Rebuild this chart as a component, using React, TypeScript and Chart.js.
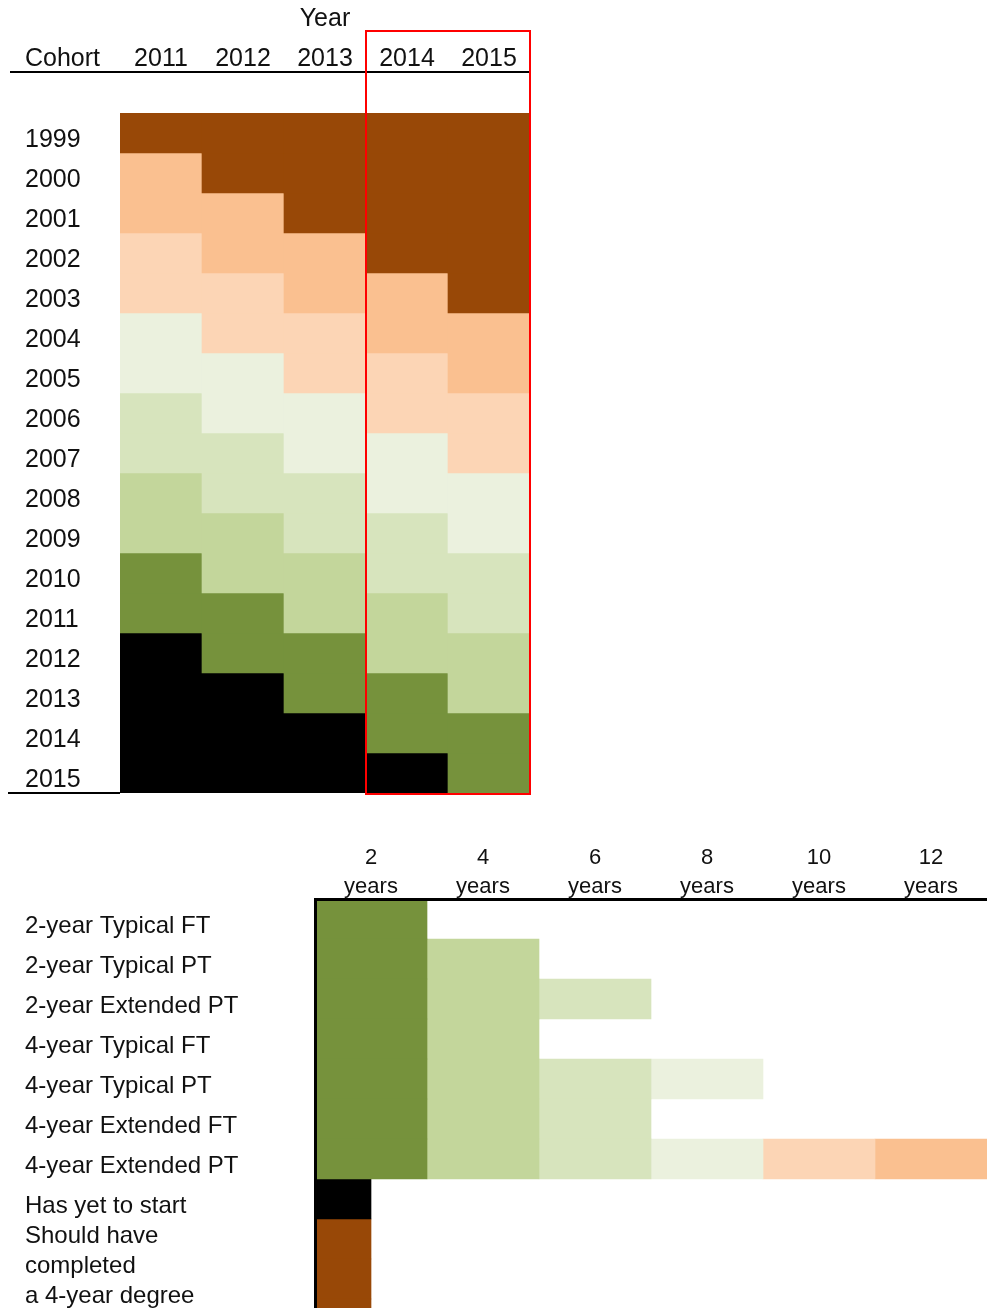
import { useEffect, useRef } from "react";
import { Chart, registerables } from "chart.js";

Chart.register(...registerables);

const FONT = "'Liberation Sans', Arial, sans-serif";
const TEXT = "#111111";

// ---------- top panel data ----------
const years = ["2011", "2012", "2013", "2014", "2015"];
const cohorts = [
  "1999", "2000", "2001", "2002", "2003", "2004", "2005", "2006", "2007",
  "2008", "2009", "2010", "2011", "2012", "2013", "2014", "2015",
];
// status level of each cohort (rows, 1999..2015) in each year column
const status2011 = [7, 6, 6, 5, 5, 4, 4, 3, 3, 2, 2, 1, 1, 0, 0, 0, 0];
const status2012 = [7, 7, 6, 6, 5, 5, 4, 4, 3, 3, 2, 2, 1, 1, 0, 0, 0];
const status2013 = [7, 7, 7, 6, 6, 5, 5, 4, 4, 3, 3, 2, 2, 1, 1, 0, 0];
const status2014 = [7, 7, 7, 7, 6, 6, 5, 5, 4, 4, 3, 3, 2, 2, 1, 1, 0];
const status2015 = [7, 7, 7, 7, 7, 6, 6, 5, 5, 4, 4, 3, 3, 2, 2, 1, 1];
// 0 = has yet to start, 1..6 = 2..12 years in, 7 = should have completed
const statusColors = [
  "#000000", "#76923C", "#C3D69B", "#D7E4BD", "#EBF1DE", "#FCD5B5", "#FAC090", "#984807",
];
const highlightYears = ["2014", "2015"];

// ---------- bottom panel data ----------
const programs = [
  "2-year Typical FT",
  "2-year Typical PT",
  "2-year Extended PT",
  "4-year Typical FT",
  "4-year Typical PT",
  "4-year Extended FT",
  "4-year Extended PT",
];
const programYears = [2, 4, 6, 4, 8, 6, 12];
const durationTicks = [2, 4, 6, 8, 10, 12];
const durationColors = ["#76923C", "#C3D69B", "#D7E4BD", "#EBF1DE", "#FCD5B5", "#FAC090"];
const notStartedLabel = "Has yet to start";
const notStartedSpan = 1;
const overdueLabel = ["Should have", "completed", "a 4-year degree"];
const overdueSpan = 1;

const statusByYear = [status2011, status2012, status2013, status2014, status2015];

const noPad = (s: any) => {
  s.paddingTop = 0;
  s.paddingBottom = 0;
  s.paddingLeft = 0;
  s.paddingRight = 0;
};

function topConfig(): any {
  const datasets = cohorts.map((c, ci) => ({
    label: c,
    data: years.map(() => 1),
    backgroundColor: years.map((_, yi) => statusColors[statusByYear[yi][ci]]),
    borderWidth: 0,
    barPercentage: 1,
    categoryPercentage: 1,
  }));
  const decor = {
    id: "topDecor",
    afterDraw(chart: any) {
      const { ctx, chartArea, scales } = chart;
      const x = scales.x;
      ctx.save();
      ctx.fillStyle = TEXT;
      ctx.font = `25px ${FONT}`;
      ctx.textBaseline = "middle";
      ctx.textAlign = "left";
      ctx.fillText("Cohort", 25, chartArea.top - 39 - 15);
      ctx.strokeStyle = "#000";
      ctx.lineWidth = 2;
      ctx.beginPath();
      ctx.moveTo(10, 72);
      ctx.lineTo(chartArea.right, 72);
      ctx.stroke();
      ctx.beginPath();
      ctx.moveTo(8, chartArea.bottom);
      ctx.lineTo(chartArea.left, chartArea.bottom);
      ctx.stroke();
      const i0 = years.indexOf(highlightYears[0]);
      const i1 = years.indexOf(highlightYears[highlightYears.length - 1]);
      const half = (x.getPixelForValue(1) - x.getPixelForValue(0)) / 2;
      const left = x.getPixelForValue(i0) - half;
      const right = x.getPixelForValue(i1) + half;
      ctx.strokeStyle = "#FF0000";
      ctx.lineWidth = 2;
      ctx.strokeRect(left, 31, right - left, chartArea.bottom + 1 - 31);
      ctx.restore();
    },
  };
  return {
    type: "bar",
    data: { labels: years, datasets },
    plugins: [decor],
    options: {
      animation: false,
      responsive: false,
      maintainAspectRatio: false,
      layout: { padding: { left: 25, right: 987 - 530, top: 0, bottom: 7 } },
      plugins: { legend: { display: false }, tooltip: { enabled: false } },
      scales: {
        x: {
          type: "category",
          position: "top",
          stacked: true,
          offset: true,
          grid: { display: false, drawTicks: false },
          border: { display: false },
          ticks: {
            color: TEXT,
            font: { family: FONT, size: 25 },
            padding: 39,
            maxRotation: 0,
            autoSkip: false,
          },
          title: {
            display: true,
            text: "Year",
            color: TEXT,
            font: { family: FONT, size: 25 },
            padding: { top: 4, bottom: 0 },
          },
          afterFit: (s: any) => {
            s.height = 113;
            noPad(s);
          },
        },
        y: {
          type: "linear",
          min: 0,
          max: cohorts.length,
          reverse: true,
          stacked: true,
          offset: false,
          bounds: "data",
          grid: { display: false, drawTicks: false },
          border: { display: false },
          afterBuildTicks: (s: any) => {
            s.ticks = cohorts.map((_, i) => ({ value: i + 0.5 }));
          },
          ticks: {
            callback: (_v: any, i: number) => cohorts[i],
            crossAlign: "far",
            padding: 0,
            labelOffset: 7,
            autoSkip: false,
            color: TEXT,
            font: { family: FONT, size: 25 },
          },
          afterFit: (s: any) => {
            s.width = 95;
            noPad(s);
          },
        },
      },
    },
  };
}

function bottomConfig(): any {
  const datasets: any[] = durationTicks.map((d, ci) => ({
    label: `${d} years`,
    data: programs
      .map((_, ri) =>
        programYears[ri] >= d
          ? { y: ri + 0.5, x: [ci === 0 ? 0 : durationTicks[ci - 1], d] }
          : null
      )
      .filter((p) => p !== null),
    backgroundColor: durationColors[ci],
    borderWidth: 0,
    grouped: false,
    barPercentage: 1,
    categoryPercentage: 1,
  }));
  const nRows = programs.length;
  datasets.push({
    label: notStartedLabel,
    data: [{ y: nRows + 0.5, x: [0, notStartedSpan] }],
    backgroundColor: statusColors[0],
    borderWidth: 0,
    grouped: false,
    barPercentage: 1,
    categoryPercentage: 1,
  });
  datasets.push({
    label: overdueLabel.join(" "),
    data: [1, 2, 3].map((k) => ({ y: nRows + k + 0.5, x: [0, overdueSpan] })),
    backgroundColor: statusColors[7],
    borderWidth: 0,
    grouped: false,
    barPercentage: 1,
    categoryPercentage: 1,
  });
  const rowLabels: any[] = [...programs, notStartedLabel, overdueLabel];
  const rowPositions = [...programs.map((_, i) => i + 0.5), nRows + 0.5, nRows + 2.0];
  return {
    type: "bar",
    data: { datasets },
    options: {
      indexAxis: "y",
      animation: false,
      responsive: false,
      maintainAspectRatio: false,
      layout: { padding: { left: 25, right: 0, top: 0, bottom: 0 } },
      plugins: { legend: { display: false }, tooltip: { enabled: false } },
      scales: {
        x: {
          type: "linear",
          position: "top",
          min: 0,
          max: durationTicks[durationTicks.length - 1],
          offset: false,
          bounds: "data",
          grid: { display: false, drawTicks: false },
          border: { display: true, color: "#000", width: 3, z: 1 },
          afterBuildTicks: (s: any) => {
            s.ticks = durationTicks.map((d) => ({ value: d - 1 }));
          },
          ticks: {
            callback: (_v: any, i: number) => [String(durationTicks[i]), "years"],
            color: TEXT,
            font: { family: FONT, size: 22, lineHeight: 1.3 },
            padding: -2,
            maxRotation: 0,
            autoSkip: false,
          },
          afterFit: (s: any) => {
            s.height = 99;
            noPad(s);
          },
        },
        y: {
          type: "linear",
          min: 0,
          max: 409 / 40,
          reverse: true,
          offset: false,
          bounds: "data",
          grid: { display: false, drawTicks: false },
          border: { display: true, color: "#000", width: 3, z: 1 },
          afterBuildTicks: (s: any) => {
            s.ticks = rowPositions.map((v) => ({ value: v }));
          },
          ticks: {
            callback: (_v: any, i: number) => rowLabels[i],
            crossAlign: "far",
            padding: 0,
            labelOffset: 7,
            autoSkip: false,
            color: TEXT,
            font: { family: FONT, size: 24, lineHeight: 1.25 },
          },
          afterFit: (s: any) => {
            s.width = 290;
            noPad(s);
          },
        },
      },
    },
  };
}

export default function App() {
  const topRef = useRef<HTMLCanvasElement>(null);
  const bottomRef = useRef<HTMLCanvasElement>(null);
  useEffect(() => {
    const c1 = new Chart(topRef.current as HTMLCanvasElement, topConfig());
    const c2 = new Chart(bottomRef.current as HTMLCanvasElement, bottomConfig());
    return () => {
      c1.destroy();
      c2.destroy();
    };
  }, []);
  return (
    <div style={{ position: "fixed", inset: 0, overflow: "hidden", background: "#fff" }}>
      <canvas
        ref={topRef}
        width={987}
        height={800}
        style={{ position: "absolute", left: 0, top: 0, width: 987, height: 800 }}
      />
      <canvas
        ref={bottomRef}
        width={987}
        height={508}
        style={{ position: "absolute", left: 0, top: 800, width: 987, height: 508 }}
      />
    </div>
  );
}
